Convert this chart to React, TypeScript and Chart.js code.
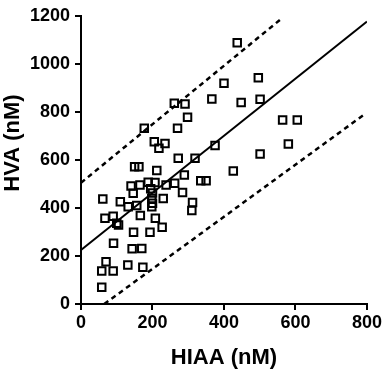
import { useEffect, useRef } from "react";
import { Chart, registerables } from "chart.js";

Chart.register(...registerables);

// HIAA (x) and HVA (y) values of each sample, in nM
const hiaa = [
  437, 400, 496, 366, 448, 501, 564, 605, 375, 580,
  501, 426, 335, 350, 177, 261, 291, 298, 270, 205,
  235, 218, 272, 319, 150, 162, 212, 289, 140, 165,
  188, 207, 238, 262, 284, 61, 110, 132, 156, 198,
  230, 198, 312, 310, 67, 90, 105, 166, 208, 227,
  147, 193, 91, 143, 170, 70, 58, 90, 131, 173,
  58, 195, 200, 146, 100, 200,
];
const hva = [
  1089, 920, 943, 854, 840, 853, 767, 767, 660, 667,
  625, 554, 514, 514, 732, 836, 833, 778, 732, 676,
  669, 649, 607, 607, 572, 572, 556, 537, 492, 496,
  507, 506, 496, 503, 465, 438, 426, 405, 410, 440,
  440, 405, 423, 390, 357, 366, 329, 369, 357, 320,
  299, 299, 253, 230, 231, 176, 138, 138, 162, 153,
  70, 480, 462, 461, 336, 420,
];

// regression line and its dashed limits
const fitX = [0, 800];
const fitY = [225, 1177];
const upperX = [0, 560];
const upperY = [505, 1188];
const lowerX = [65, 790];
const lowerY = [0, 787];

const xTicks = [0, 200, 400, 600, 800];
const yTicks = [0, 200, 400, 600, 800, 1000, 1200];
const xTitle = "HIAA (nM)";
const yTitle = "HVA (nM)";

const FONT = "'Liberation Sans', Arial, sans-serif";

const pairs = (xs: number[], ys: number[]) => xs.map((x, i) => ({ x, y: ys[i] }));

export default function App() {
  const ref = useRef<HTMLCanvasElement | null>(null);

  useEffect(() => {
    if (!ref.current) return;
    const titlePlugin = {
      id: "axisTitles",
      afterDraw(chart: any) {
        const { ctx, chartArea } = chart;
        ctx.save();
        ctx.fillStyle = "#000";
        ctx.font = `bold 22px ${FONT}`;
        ctx.textAlign = "center";
        ctx.textBaseline = "middle";
        ctx.fillText(xTitle, (chartArea.left + chartArea.right) / 2, chartArea.bottom + 54);
        ctx.translate(13, chartArea.top + 127);
        ctx.rotate(-Math.PI / 2);
        ctx.fillText(yTitle, 0, 0);
        ctx.restore();
      },
    };

    const lineDs = (xs: number[], ys: number[], dash: number[], width: number) => ({
      type: "line" as const,
      data: pairs(xs, ys),
      borderColor: "#000",
      borderWidth: width,
      borderDash: dash,
      pointRadius: 0,
      fill: false,
      tension: 0,
    });

    const tickFont = { family: FONT, size: 18, weight: "bold" as const };

    const chart = new Chart(ref.current, {
      type: "scatter",
      data: {
        datasets: [
          {
            type: "scatter",
            data: pairs(hiaa, hva),
            pointStyle: "rect",
            pointRadius: 5.3,
            borderColor: "#000",
            borderWidth: 2,
            backgroundColor: "rgba(0,0,0,0)",
          } as any,
          lineDs(fitX, fitY, [], 2),
          lineDs(upperX, upperY, [5, 4], 2.5),
          lineDs(lowerX, lowerY, [5, 4], 2.5),
        ],
      },
      options: {
        animation: false,
        responsive: false,
        maintainAspectRatio: false,
        layout: { padding: { left: 0, right: 17, top: 16, bottom: 0 } },
        plugins: { legend: { display: false }, tooltip: { enabled: false }, title: { display: false } },
        scales: {
          x: {
            type: "linear",
            min: 0,
            max: 800,
            afterBuildTicks: (s: any) => {
              s.ticks = xTicks.map((v) => ({ value: v }));
            },
            afterFit: (s: any) => {
              s.height = 66;
            },
            ticks: { color: "#000", font: tickFont, padding: 2, maxRotation: 0, callback: (v: any) => String(v) },
            grid: { drawOnChartArea: false, drawTicks: true, tickLength: 6, color: "#000", lineWidth: 2 },
            border: { display: true, color: "#000", width: 2 },
          },
          y: {
            type: "linear",
            min: 0,
            max: 1200,
            afterBuildTicks: (s: any) => {
              s.ticks = yTicks.map((v) => ({ value: v }));
            },
            afterFit: (s: any) => {
              s.width = 81;
            },
            ticks: { color: "#000", font: tickFont, padding: 5, callback: (v: any) => String(v) },
            grid: { drawOnChartArea: false, drawTicks: true, tickLength: 6, color: "#000", lineWidth: 2 },
            border: { display: true, color: "#000", width: 2 },
          },
        },
      },
      plugins: [titlePlugin],
    } as any);
    return () => chart.destroy();
  }, []);

  return (
    <div style={{ position: "fixed", left: 0, top: 0, width: 384, height: 370, background: "#fff" }}>
      <canvas ref={ref} width={384} height={370} style={{ width: 384, height: 370 }} />
    </div>
  );
}
